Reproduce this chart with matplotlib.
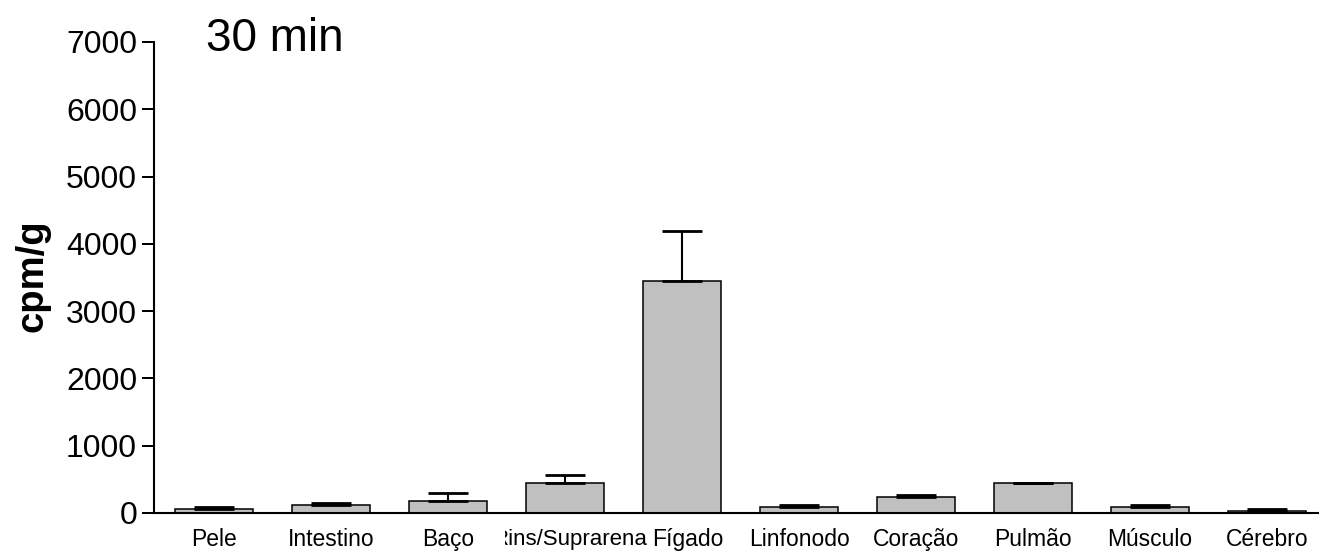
import matplotlib
matplotlib.use("Agg")
import matplotlib.pyplot as plt
import numpy as np
from matplotlib.transforms import Bbox, TransformedBbox, ScaledTranslation, blended_transform_factory

plt.rcParams['font.family'] = ['Liberation Sans', 'DejaVu Sans']

# Biodistribution at 30 min (mean counts per gram and upper error)
organs = ['Pele', 'Intestino', 'Baço', 'Rins/Suprarenal', 'Fígado',
          'Linfonodo', 'Coração', 'Pulmão', 'Músculo', 'Cérebro']
cpm_mean = [60, 120, 180, 445, 3450, 90, 240, 445, 90, 30]
cpm_err = [25, 25, 110, 115, 735, 30, 30, 8, 30, 33]
y_ticks = [0, 1000, 2000, 3000, 4000, 5000, 6000, 7000]

W, H = 1319, 552
fig = plt.figure(figsize=(W / 100, H / 100), dpi=100)
ax = fig.add_axes([154 / W, 1 - 513 / H, 1 - 154 / W, (513 - 42) / H])

x = np.arange(len(organs))
ax.bar(x, cpm_mean, width=0.667, color='#c0c0c0', edgecolor='black',
       linewidth=1.1, zorder=2)
ax.errorbar(x, cpm_mean, yerr=[np.zeros(len(cpm_err)), cpm_err], fmt='none',
            ecolor='black', elinewidth=1.5, capsize=14.4, capthick=2.0, zorder=3)

ax.set_xlim(-0.513, 9.444)
ax.set_ylim(0, 7000)
ax.set_yticks(y_ticks)
ax.set_yticklabels([str(v) for v in y_ticks], fontsize=23)
ax.set_xticks(x)
ax.set_xticklabels(organs, fontsize=16.5)
ax.tick_params(axis='y', length=8.6, width=1.44, pad=3.6, direction='out')
ax.tick_params(axis='x', length=0, pad=10.5)

for s in ['top', 'right']:
    ax.spines[s].set_visible(False)
for s in ['left', 'bottom']:
    ax.spines[s].set_linewidth(1.5)

labels = ax.get_xticklabels()
# The long kidney label overflows its slot: clip both of its ends
lbl = labels[3]
lbl.set_fontsize(16)
lbl.set_transform(lbl.get_transform() + ScaledTranslation(7.5 / 100, -1.5 / 100, fig.dpi_scale_trans))
clip_tr = blended_transform_factory(fig.transFigure, fig.transFigure)
lbl.set_clip_box(TransformedBbox(Bbox([[505 / W, 0], [646.5 / W, 1]]), clip_tr))
lbl.set_clip_on(True)
labels[4].set_transform(labels[4].get_transform() + ScaledTranslation(6 / 100, 0, fig.dpi_scale_trans))

ax.set_ylabel('cpm/g', fontsize=27.5, fontweight='bold')
ax.yaxis.set_label_coords(50 / W, 1 - 276 / H, transform=fig.transFigure)

fig.text(206 / W, 1 - 51 / H, '30 min', fontsize=33, ha='left', va='baseline')

fig.savefig('out.png', dpi=100)
